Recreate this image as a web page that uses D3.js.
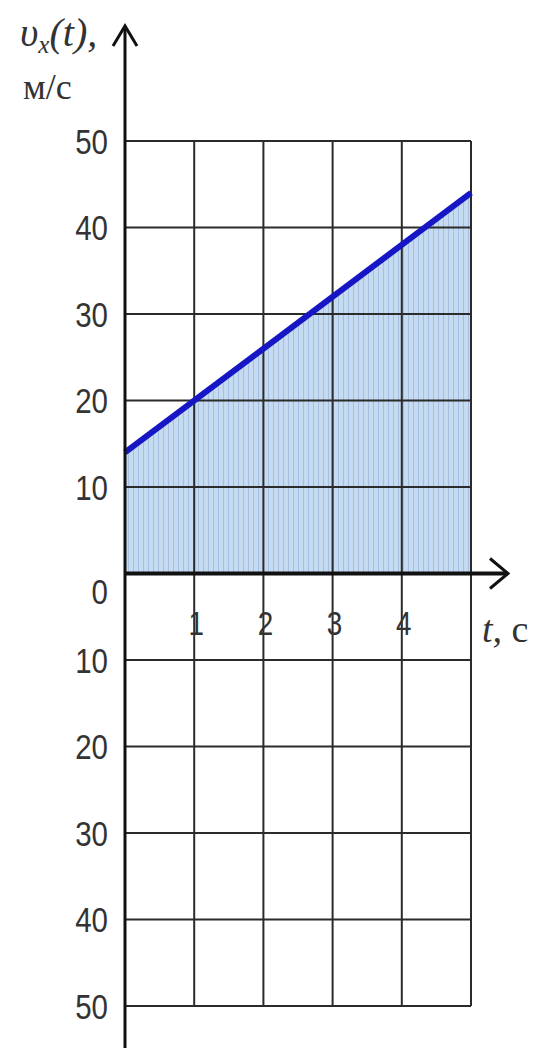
<!DOCTYPE html>
<html>
<head>
<meta charset="utf-8">
<script src="https://cdn.jsdelivr.net/npm/d3@7"></script>
<style>
  html, body { margin: 0; padding: 0; background: #fff; }
  svg text { fill: #333; }
  .num { font-family: "Liberation Sans", Arial, sans-serif; }
  .serif { font-family: "Liberation Serif", "DejaVu Serif", serif; }
</style>
</head>
<body>
<div id="chart"></div>
<script>
// data
const tTicks = [1, 2, 3, 4];
const vTicks = [50, 40, 30, 20, 10, 0, -10, -20, -30, -40, -50];
const vLabels = ["50", "40", "30", "20", "10", "0", "10", "20", "30", "40", "50"];
const tValues = [0, 5];
const vValues = [14, 44];

const width = 550, height = 1048;
const narrow = 0.82; // squeeze the digits like a narrow face

let x = d3.scaleLinear().domain([0, 5]).range([125, 471]);
let y = d3.scaleLinear().domain([-50, 50]).range([1006, 141]);

let svg = d3.select("#chart").append("svg")
    .attr("width", width)
    .attr("height", height);

// striped light blue fill under the line
let defs = svg.append("defs");
let pat = defs.append("pattern")
    .attr("id", "stripes")
    .attr("patternUnits", "userSpaceOnUse")
    .attr("width", 5)
    .attr("height", 10);
pat.append("rect").attr("width", 5).attr("height", 10).attr("fill", "#c6daf0");
pat.append("rect").attr("x", 3).attr("width", 1).attr("height", 10).attr("fill", "#a3c0e2");

let pts = tValues.map((t, i) => ({ t: t, v: vValues[i] }));

svg.append("path")
    .datum(pts)
    .attr("fill", "url(#stripes)")
    .attr("d", d3.area().x(d => x(d.t)).y0(y(0)).y1(d => y(d.v)));

// grid
svg.append("g").selectAll("line")
    .data(vTicks.filter(d => d !== 0))
    .enter().append("line")
    .attr("x1", x(0)).attr("x2", x(5))
    .attr("y1", d => y(d)).attr("y2", d => y(d))
    .attr("stroke", "#2b2b2b").attr("stroke-width", 2);

svg.append("g").selectAll("line")
    .data([1, 2, 3, 4, 5])
    .enter().append("line")
    .attr("x1", d => x(d)).attr("x2", d => x(d))
    .attr("y1", y(50)).attr("y2", y(-50))
    .attr("stroke", "#2b2b2b").attr("stroke-width", 2);

// the line v = 14 + 6t
svg.append("path")
    .datum(pts)
    .attr("fill", "none")
    .attr("stroke", "#1616c4")
    .attr("stroke-width", 6)
    .attr("d", d3.line().x(d => x(d.t)).y(d => y(d.v)));

// axes
svg.append("line")
    .attr("x1", x(0)).attr("x2", x(0))
    .attr("y1", 26).attr("y2", height)
    .attr("stroke", "#111").attr("stroke-width", 3);
svg.append("path")
    .attr("d", `M${x(0) - 12},${46} L${x(0)},${26} L${x(0) + 12},${46}`)
    .attr("fill", "none").attr("stroke", "#111").attr("stroke-width", 3);

svg.append("line")
    .attr("x1", x(0)).attr("x2", 508)
    .attr("y1", y(0)).attr("y2", y(0))
    .attr("stroke", "#111").attr("stroke-width", 4);
svg.append("path")
    .attr("d", `M${490},${y(0) - 15} L${508},${y(0)} L${490},${y(0) + 15}`)
    .attr("fill", "none").attr("stroke", "#111").attr("stroke-width", 3);

// y tick labels
svg.append("g").selectAll("text")
    .data(vTicks)
    .enter().append("text")
    .attr("class", "num")
    .attr("transform", d => `translate(108,${y(d) + (d === 0 ? 18 : 0)}) scale(${narrow},1)`)
    .attr("dy", "0.36em")
    .attr("text-anchor", "end")
    .attr("font-size", 36)
    .text((d, i) => vLabels[i]);

// t tick labels
svg.append("g").selectAll("text")
    .data(tTicks)
    .enter().append("text")
    .attr("class", "num")
    .attr("transform", d => `translate(${x(d) + 2},635) scale(${narrow},1)`)
    .attr("text-anchor", "middle")
    .attr("font-size", 34)
    .text(d => d);

// axis titles
svg.append("text")
    .attr("class", "serif")
    .attr("x", 482).attr("y", 642)
    .attr("font-size", 38)
    .html('<tspan font-style="italic">t,</tspan> c');

svg.append("text")
    .attr("class", "serif")
    .attr("x", 20).attr("y", 46)
    .attr("font-size", 40)
    .attr("font-style", "italic")
    .html('υ<tspan font-size="25" dy="7">x</tspan><tspan dy="-7">(t),</tspan>');

svg.append("text")
    .attr("class", "serif")
    .attr("x", 23).attr("y", 99)
    .attr("font-size", 36)
    .text("м/с");
</script>
</body>
</html>
